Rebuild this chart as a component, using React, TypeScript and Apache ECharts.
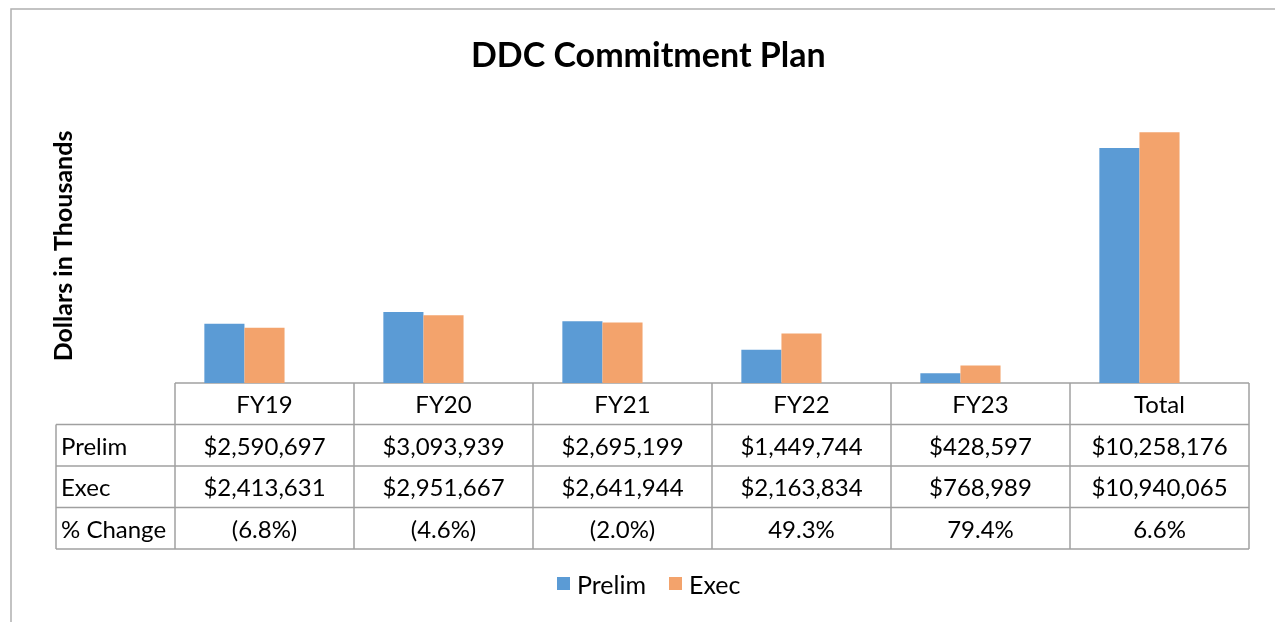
import React, { useEffect, useRef } from "react";
import * as echarts from "echarts";

const categories = ["FY19", "FY20", "FY21", "FY22", "FY23", "Total"];
const prelim = [2590697, 3093939, 2695199, 1449744, 428597, 10258176];
const exec = [2413631, 2951667, 2641944, 2163834, 768989, 10940065];
const pctChange = ["(6.8%)", "(4.6%)", "(2.0%)", "49.3%", "79.4%", "6.6%"];
const seriesNames = ["Prelim", "Exec"];
const rowLabels = ["Prelim", "Exec", "% Change"];

const FONT = "Lato, 'Open Sans', sans-serif";
const fmt = (v: number) => "$" + v.toLocaleString("en-US");

export default function App() {
  const ref = useRef<HTMLDivElement>(null);
  useEffect(() => {
    const chart = echarts.init(ref.current!, null, { renderer: "svg" });
    const gridLeft = 175;
    const gridRight = 26;
    const gridTop = 108;
    const gridBottom = 239;
    chart.setOption({
      animation: false,
      title: {
        text: "DDC Commitment Plan",
        left: 466,
        top: 31,
        textStyle: { fontFamily: FONT, fontSize: 34, fontWeight: "bold", color: "#000" },
      },
      legend: {
        data: seriesNames,
        bottom: 21,
        left: 552,
        itemWidth: 13,
        itemHeight: 13,
        itemGap: 23,
        icon: "rect",
        textStyle: { fontFamily: FONT, fontSize: 25, color: "#000", padding: [0, 0, 0, 2] },
      },
      grid: { left: gridLeft, right: gridRight, top: gridTop, bottom: gridBottom },
      xAxis: {
        type: "category",
        data: categories,
        axisLine: { show: false },
        axisTick: { show: false },
        axisLabel: { show: false },
      },
      yAxis: {
        type: "value",
        min: 0,
        max: 12000000,
        show: false,
        splitLine: { show: false },
      },
      series: [
        {
          name: seriesNames[0],
          type: "bar",
          data: prelim,
          barWidth: "22.4%",
          barGap: "0%",
          itemStyle: { color: "#5b9bd5" },
        },
        {
          name: seriesNames[1],
          type: "bar",
          data: exec,
          barWidth: "22.4%",
          barGap: "0%",
          itemStyle: { color: "#f3a36c" },
        },
        {
          name: "_slot",
          type: "bar",
          data: [],
          barWidth: "22.4%",
          barGap: "0%",
          silent: true,
        },
      ],
    });

    const x0 = chart.convertToPixel({ xAxisIndex: 0 }, 0) as number;
    const x1 = chart.convertToPixel({ xAxisIndex: 0 }, 1) as number;
    const band = x1 - x0;
    const axisY = chart.convertToPixel({ yAxisIndex: 0 }, 0) as number;
    const rowH = 41.5;
    const labelLeft = 56;
    const tableLeft = x0 - band / 2;
    const tableRight = tableLeft + band * categories.length;
    const lineStyle = { stroke: "#a0a0a0", lineWidth: 1.5 };
    const elements: any[] = [];
    elements.push({
      type: "rect",
      shape: { x: 11, y: 9, width: 1400, height: 800 },
      style: { fill: "none", stroke: "#b0b0b0", lineWidth: 1.5 },
      silent: true,
    });
    elements.push({ type: "line", shape: { x1: tableLeft, y1: axisY, x2: tableRight, y2: axisY }, style: lineStyle });
    for (let r = 1; r <= 4; r++) {
      const y = axisY + rowH * r;
      elements.push({ type: "line", shape: { x1: labelLeft, y1: y, x2: tableRight, y2: y }, style: lineStyle });
    }
    elements.push({ type: "line", shape: { x1: labelLeft, y1: axisY + rowH, x2: labelLeft, y2: axisY + rowH * 4 }, style: lineStyle });
    for (let c = 0; c <= categories.length; c++) {
      const x = tableLeft + band * c;
      elements.push({ type: "line", shape: { x1: x, y1: axisY, x2: x, y2: axisY + rowH * 4 }, style: lineStyle });
    }
    const rows: string[][] = [categories, prelim.map(fmt), exec.map(fmt), pctChange];
    rows.forEach((row, r) => {
      row.forEach((txt, c) => {
        const cx = chart.convertToPixel({ xAxisIndex: 0 }, c) as number;
        elements.push({
          type: "text",
          x: cx,
          y: axisY + rowH * r + rowH / 2,
          style: {
            text: txt,
            fontFamily: FONT,
            fontSize: 24,
            fill: "#000",
            align: "center",
            verticalAlign: "middle",
          },
        });
      });
    });
    rowLabels.forEach((txt, r) => {
      elements.push({
        type: "text",
        x: labelLeft + 5,
        y: axisY + rowH * (r + 1) + rowH / 2,
        style: {
          text: txt,
          fontFamily: FONT,
          fontSize: 24,
          fill: "#000",
          align: "left",
          verticalAlign: "middle",
        },
      });
    });
    elements.push({
      type: "text",
      x: 62,
      y: 246,
      rotation: Math.PI / 2,
      style: {
        text: "Dollars in Thousands",
        fontFamily: FONT,
        fontSize: 25,
        fontWeight: "bold",
        fill: "#000",
        align: "center",
        verticalAlign: "middle",
      },
    });
    chart.setOption({ graphic: { elements } });
    return () => chart.dispose();
  }, []);
  return <div ref={ref} style={{ position: "fixed", left: 0, top: 0, width: 1275, height: 622 }} />;
}
